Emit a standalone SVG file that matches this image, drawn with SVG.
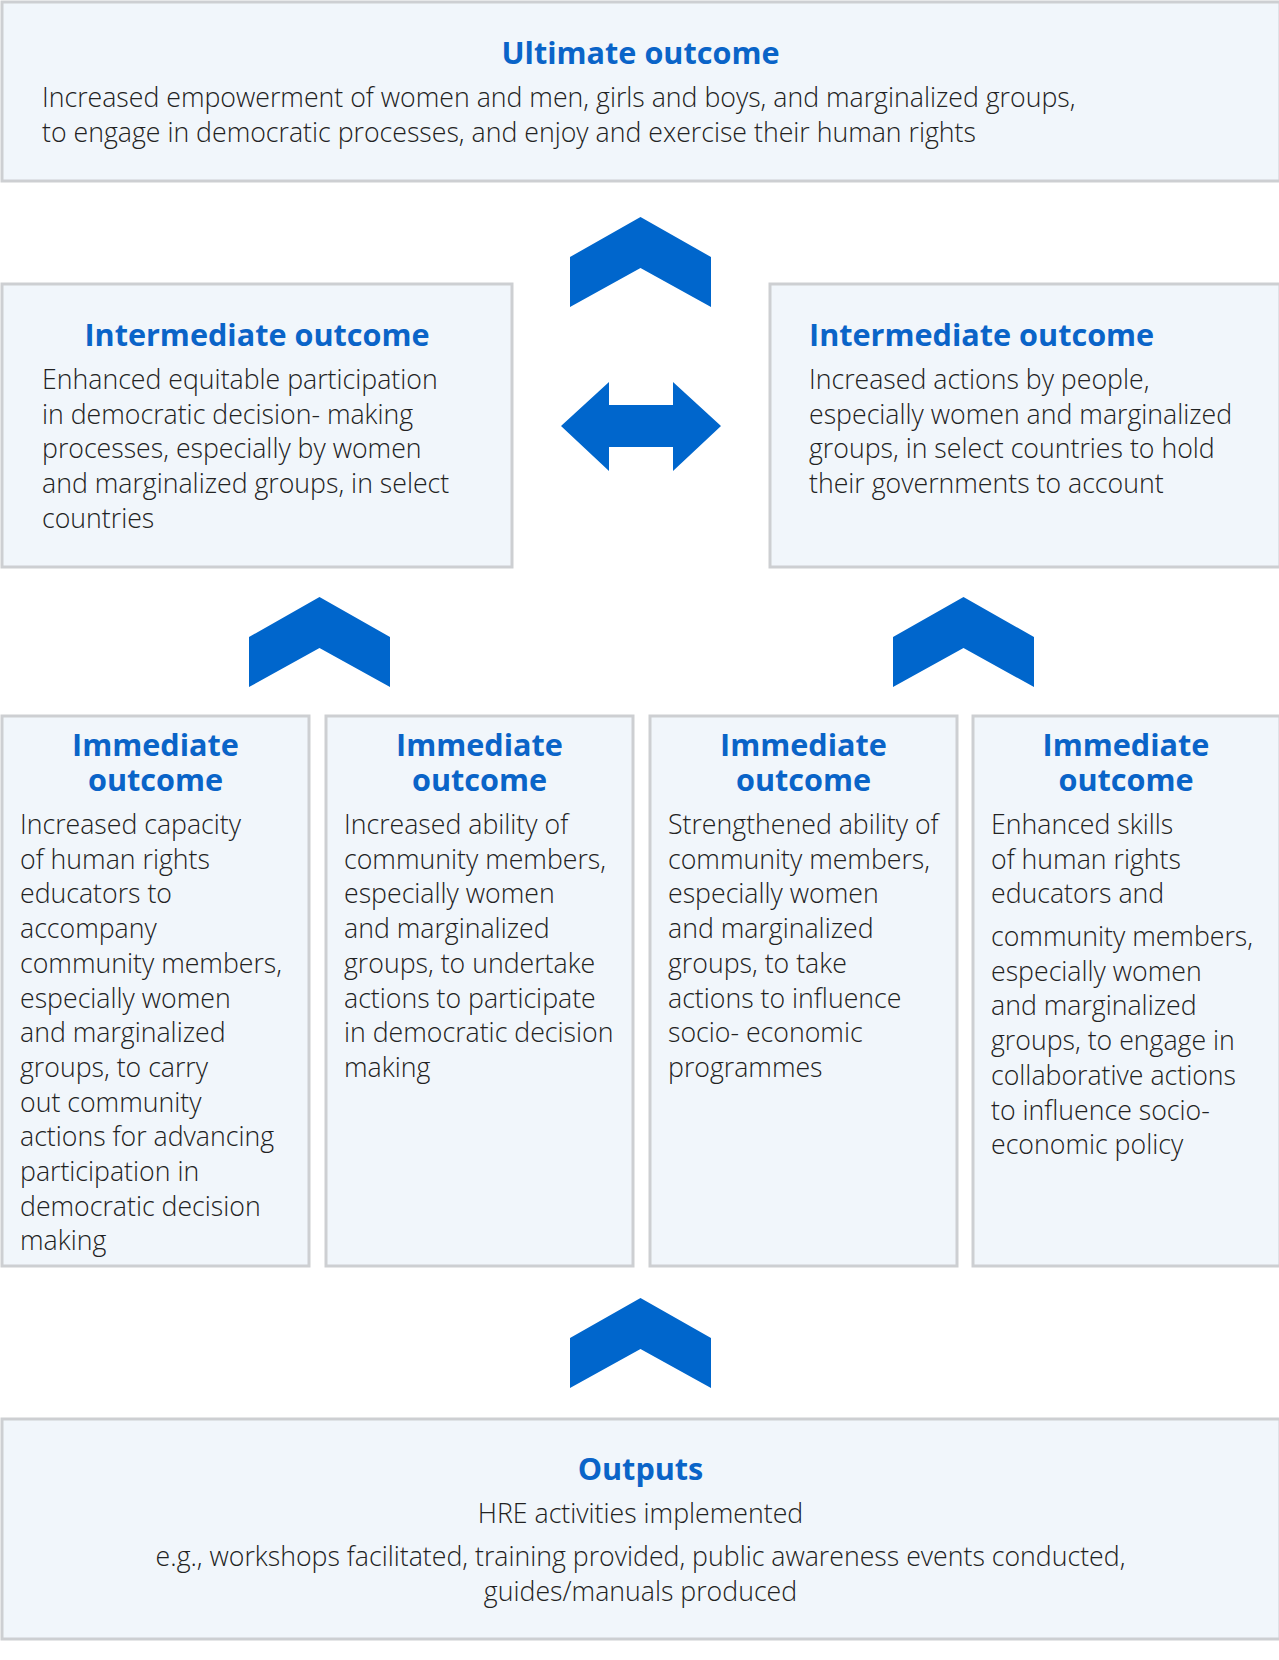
<svg xmlns="http://www.w3.org/2000/svg" width="1279" height="1660" viewBox="0 0 1279 1660">
<style>
.box{fill:#f1f6fb;stroke:#cdcfd2;stroke-width:3}
.ttl{font-family:"Open Sans","Noto Sans",sans-serif;font-weight:700;font-size:30.6px;fill:#0a64c8}
.bd{font-family:"Open Sans","Noto Sans",sans-serif;font-weight:300;font-size:26.7px;fill:#222}
.arr{fill:#0066cc}
</style>
<rect width="1279" height="1660" fill="#ffffff"/>
<g id="ultimate">
<rect class="box" x="2" y="2" width="1278" height="179"/>
<text class="ttl" x="640.5" y="64" text-anchor="middle">Ultimate outcome</text>
<text class="bd" x="42" y="107">Increased empowerment of women and men, girls and boys, and marginalized groups,</text>
<text class="bd" x="42" y="142">to engage in democratic processes, and enjoy and exercise their human rights</text>
</g>
<g id="intermediate-left">
<rect class="box" x="2" y="284" width="510" height="283"/>
<text class="ttl" x="257" y="346" text-anchor="middle">Intermediate outcome</text>
<text class="bd" x="42" y="389">Enhanced equitable participation</text>
<text class="bd" x="42" y="424">in democratic decision- making</text>
<text class="bd" x="42" y="458">processes, especially by women</text>
<text class="bd" x="42" y="493">and marginalized groups, in select</text>
<text class="bd" x="42" y="528">countries</text>
</g>
<g id="intermediate-right">
<rect class="box" x="770" y="284" width="510" height="283"/>
<text class="ttl" x="809" y="346">Intermediate outcome</text>
<text class="bd" x="809" y="389">Increased actions by people,</text>
<text class="bd" x="809" y="424">especially women and marginalized</text>
<text class="bd" x="809" y="458">groups, in select countries to hold</text>
<text class="bd" x="809" y="493">their governments to account</text>
</g>
<g id="immediate-1">
<rect class="box" x="2" y="716" width="307" height="550"/>
<text class="ttl" x="155.5" y="756" text-anchor="middle">Immediate</text>
<text class="ttl" x="155.5" y="791" text-anchor="middle">outcome</text>
<text class="bd" x="20" y="834">Increased capacity</text>
<text class="bd" x="20" y="868.7">of human rights</text>
<text class="bd" x="20" y="903.4">educators to</text>
<text class="bd" x="20" y="938.1">accompany</text>
<text class="bd" x="20" y="972.8">community members,</text>
<text class="bd" x="20" y="1007.5">especially women</text>
<text class="bd" x="20" y="1042.2">and marginalized</text>
<text class="bd" x="20" y="1076.9">groups, to carry</text>
<text class="bd" x="20" y="1111.6">out community</text>
<text class="bd" x="20" y="1146.3">actions for advancing</text>
<text class="bd" x="20" y="1181">participation in</text>
<text class="bd" x="20" y="1215.7">democratic decision</text>
<text class="bd" x="20" y="1250.4">making</text>
</g>
<g id="immediate-2">
<rect class="box" x="326" y="716" width="307" height="550"/>
<text class="ttl" x="479.5" y="756" text-anchor="middle">Immediate</text>
<text class="ttl" x="479.5" y="791" text-anchor="middle">outcome</text>
<text class="bd" x="344" y="834">Increased ability of</text>
<text class="bd" x="344" y="868.7">community members,</text>
<text class="bd" x="344" y="903.4">especially women</text>
<text class="bd" x="344" y="938.1">and marginalized</text>
<text class="bd" x="344" y="972.8">groups, to undertake</text>
<text class="bd" x="344" y="1007.5">actions to participate</text>
<text class="bd" x="344" y="1042.2">in democratic decision</text>
<text class="bd" x="344" y="1076.9">making</text>
</g>
<g id="immediate-3">
<rect class="box" x="650" y="716" width="307" height="550"/>
<text class="ttl" x="803.5" y="756" text-anchor="middle">Immediate</text>
<text class="ttl" x="803.5" y="791" text-anchor="middle">outcome</text>
<text class="bd" x="668" y="834">Strengthened ability of</text>
<text class="bd" x="668" y="868.7">community members,</text>
<text class="bd" x="668" y="903.4">especially women</text>
<text class="bd" x="668" y="938.1">and marginalized</text>
<text class="bd" x="668" y="972.8">groups, to take</text>
<text class="bd" x="668" y="1007.5">actions to influence</text>
<text class="bd" x="668" y="1042.2">socio- economic</text>
<text class="bd" x="668" y="1076.9">programmes</text>
</g>
<g id="immediate-4">
<rect class="box" x="973" y="716" width="307" height="550"/>
<text class="ttl" x="1126" y="756" text-anchor="middle">Immediate</text>
<text class="ttl" x="1126" y="791" text-anchor="middle">outcome</text>
<text class="bd" x="991" y="834">Enhanced skills</text>
<text class="bd" x="991" y="868.7">of human rights</text>
<text class="bd" x="991" y="903.4">educators and</text>
<text class="bd" x="991" y="946">community members,</text>
<text class="bd" x="991" y="980.7">especially women</text>
<text class="bd" x="991" y="1015.4">and marginalized</text>
<text class="bd" x="991" y="1050.1">groups, to engage in</text>
<text class="bd" x="991" y="1084.8">collaborative actions</text>
<text class="bd" x="991" y="1119.5">to influence socio-</text>
<text class="bd" x="991" y="1154.2">economic policy</text>
</g>
<g id="outputs">
<rect class="box" x="2" y="1419" width="1278" height="220"/>
<text class="ttl" x="640.5" y="1480" text-anchor="middle">Outputs</text>
<text class="bd" x="640.5" y="1523" text-anchor="middle">HRE activities implemented</text>
<text class="bd" x="640.5" y="1566" text-anchor="middle">e.g., workshops facilitated, training provided, public awareness events conducted,</text>
<text class="bd" x="640.5" y="1601" text-anchor="middle">guides/manuals produced</text>
</g>
<g id="connectors">
<polygon class="arr" points="640.5,217 711,257 711,307 640.5,268 570,307 570,257"/>
<polygon class="arr" points="561,426 609,382 609,405 673,405 673,382 721,426 673,471 673,447 609,447 609,471"/>
<polygon class="arr" points="319.5,597 390,637 390,687 319.5,648 249,687 249,637"/>
<polygon class="arr" points="963.5,597 1034,637 1034,687 963.5,648 893,687 893,637"/>
<polygon class="arr" points="640.5,1298 711,1338 711,1388 640.5,1349 570,1388 570,1338"/>
</g>
</svg>
